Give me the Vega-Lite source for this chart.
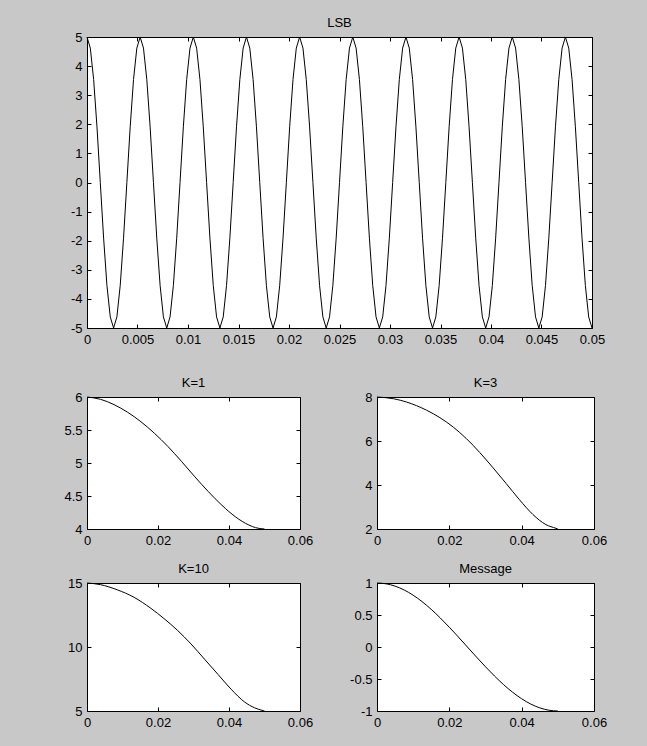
{
"$schema": "https://vega.github.io/schema/vega-lite/v6.json",
"background": "#c8c8c8",
"padding": {"left": 51, "top": 16, "right": 45, "bottom": 20},
"spacing": 29,
"config": {
  "view": {"fill": "white", "stroke": "black", "strokeWidth": 1},
  "axis": {"domain": false, "grid": false, "tickColor": "black", "tickSize": -4, "labelColor": "black", "labelFont": "Liberation Sans", "labelFontSize": 13, "labelPadding": 9, "labelFlush": false, "title": null, "labelExpr": "'' + datum.value"},
  "title": {"font": "Liberation Sans", "fontSize": 13, "fontWeight": "normal", "color": "black", "offset": 1},
  "line": {"color": "black", "strokeWidth": 1}
},
"datasets": {
  "lsb": [
    {"t":0,"v":5},{"t":0.000329,"v":4.619},{"t":0.000658,"v":3.536},{"t":0.000987,"v":1.913},{"t":0.001316,"v":0},{"t":0.001645,"v":-1.913},{"t":0.001974,"v":-3.536},{"t":0.002303,"v":-4.619},{"t":0.002632,"v":-5},{"t":0.002961,"v":-4.619},{"t":0.003289,"v":-3.536},{"t":0.003618,"v":-1.913},{"t":0.003947,"v":0},{"t":0.004276,"v":1.913},{"t":0.004605,"v":3.536},{"t":0.004934,"v":4.619},
    {"t":0.005263,"v":5},{"t":0.005592,"v":4.619},{"t":0.005921,"v":3.536},{"t":0.00625,"v":1.913},{"t":0.006579,"v":0},{"t":0.006908,"v":-1.913},{"t":0.007237,"v":-3.536},{"t":0.007566,"v":-4.619},{"t":0.007895,"v":-5},{"t":0.008224,"v":-4.619},{"t":0.008553,"v":-3.536},{"t":0.008882,"v":-1.913},{"t":0.009211,"v":0},{"t":0.009539,"v":1.913},{"t":0.009868,"v":3.536},{"t":0.010197,"v":4.619},
    {"t":0.010526,"v":5},{"t":0.010855,"v":4.619},{"t":0.011184,"v":3.536},{"t":0.011513,"v":1.913},{"t":0.011842,"v":0},{"t":0.012171,"v":-1.913},{"t":0.0125,"v":-3.536},{"t":0.012829,"v":-4.619},{"t":0.013158,"v":-5},{"t":0.013487,"v":-4.619},{"t":0.013816,"v":-3.536},{"t":0.014145,"v":-1.913},{"t":0.014474,"v":0},{"t":0.014803,"v":1.913},{"t":0.015132,"v":3.536},{"t":0.015461,"v":4.619},
    {"t":0.015789,"v":5},{"t":0.016118,"v":4.619},{"t":0.016447,"v":3.536},{"t":0.016776,"v":1.913},{"t":0.017105,"v":0},{"t":0.017434,"v":-1.913},{"t":0.017763,"v":-3.536},{"t":0.018092,"v":-4.619},{"t":0.018421,"v":-5},{"t":0.01875,"v":-4.619},{"t":0.019079,"v":-3.536},{"t":0.019408,"v":-1.913},{"t":0.019737,"v":0},{"t":0.020066,"v":1.913},{"t":0.020395,"v":3.536},{"t":0.020724,"v":4.619},
    {"t":0.021053,"v":5},{"t":0.021382,"v":4.619},{"t":0.021711,"v":3.536},{"t":0.022039,"v":1.913},{"t":0.022368,"v":0},{"t":0.022697,"v":-1.913},{"t":0.023026,"v":-3.536},{"t":0.023355,"v":-4.619},{"t":0.023684,"v":-5},{"t":0.024013,"v":-4.619},{"t":0.024342,"v":-3.536},{"t":0.024671,"v":-1.913},{"t":0.025,"v":0},{"t":0.025329,"v":1.913},{"t":0.025658,"v":3.536},{"t":0.025987,"v":4.619},
    {"t":0.026316,"v":5},{"t":0.026645,"v":4.619},{"t":0.026974,"v":3.536},{"t":0.027303,"v":1.913},{"t":0.027632,"v":0},{"t":0.027961,"v":-1.913},{"t":0.028289,"v":-3.536},{"t":0.028618,"v":-4.619},{"t":0.028947,"v":-5},{"t":0.029276,"v":-4.619},{"t":0.029605,"v":-3.536},{"t":0.029934,"v":-1.913},{"t":0.030263,"v":0},{"t":0.030592,"v":1.913},{"t":0.030921,"v":3.536},{"t":0.03125,"v":4.619},
    {"t":0.031579,"v":5},{"t":0.031908,"v":4.619},{"t":0.032237,"v":3.536},{"t":0.032566,"v":1.913},{"t":0.032895,"v":0},{"t":0.033224,"v":-1.913},{"t":0.033553,"v":-3.536},{"t":0.033882,"v":-4.619},{"t":0.034211,"v":-5},{"t":0.034539,"v":-4.619},{"t":0.034868,"v":-3.536},{"t":0.035197,"v":-1.913},{"t":0.035526,"v":0},{"t":0.035855,"v":1.913},{"t":0.036184,"v":3.536},{"t":0.036513,"v":4.619},
    {"t":0.036842,"v":5},{"t":0.037171,"v":4.619},{"t":0.0375,"v":3.536},{"t":0.037829,"v":1.913},{"t":0.038158,"v":0},{"t":0.038487,"v":-1.913},{"t":0.038816,"v":-3.536},{"t":0.039145,"v":-4.619},{"t":0.039474,"v":-5},{"t":0.039803,"v":-4.619},{"t":0.040132,"v":-3.536},{"t":0.040461,"v":-1.913},{"t":0.040789,"v":0},{"t":0.041118,"v":1.913},{"t":0.041447,"v":3.536},{"t":0.041776,"v":4.619},
    {"t":0.042105,"v":5},{"t":0.042434,"v":4.619},{"t":0.042763,"v":3.536},{"t":0.043092,"v":1.913},{"t":0.043421,"v":0},{"t":0.04375,"v":-1.913},{"t":0.044079,"v":-3.536},{"t":0.044408,"v":-4.619},{"t":0.044737,"v":-5},{"t":0.045066,"v":-4.619},{"t":0.045395,"v":-3.536},{"t":0.045724,"v":-1.913},{"t":0.046053,"v":0},{"t":0.046382,"v":1.913},{"t":0.046711,"v":3.536},{"t":0.047039,"v":4.619},
    {"t":0.047368,"v":5},{"t":0.047697,"v":4.619},{"t":0.048026,"v":3.536},{"t":0.048355,"v":1.913},{"t":0.048684,"v":0},{"t":0.049013,"v":-1.913},{"t":0.049342,"v":-3.536},{"t":0.049671,"v":-4.619},{"t":0.05,"v":-5}
  ],
  "k1": [
    {"t":0,"v":6},{"t":0.0038,"v":5.965},{"t":0.0076,"v":5.885},{"t":0.0114,"v":5.77},{"t":0.0152,"v":5.625},{"t":0.019,"v":5.45},{"t":0.0228,"v":5.25},{"t":0.0266,"v":5.025},{"t":0.0304,"v":4.79},{"t":0.0342,"v":4.565},{"t":0.038,"v":4.36},{"t":0.0418,"v":4.185},{"t":0.0456,"v":4.06},{"t":0.0475,"v":4.02},{"t":0.05,"v":4.0}
  ],
  "k3": [
    {"t":0,"v":8},{"t":0.0046,"v":7.92},{"t":0.0082,"v":7.77},{"t":0.0137,"v":7.4},{"t":0.0174,"v":7.06},{"t":0.0211,"v":6.63},{"t":0.0247,"v":6.11},{"t":0.0284,"v":5.48},{"t":0.0321,"v":4.78},{"t":0.0357,"v":4.07},{"t":0.0394,"v":3.33},{"t":0.0431,"v":2.66},{"t":0.0467,"v":2.2},{"t":0.0495,"v":2.03},{"t":0.05,"v":2.0}
  ],
  "k10": [
    {"t":0,"v":15},{"t":0.0038,"v":14.87},{"t":0.0085,"v":14.47},{"t":0.0132,"v":13.89},{"t":0.018,"v":13.02},{"t":0.0217,"v":12.22},{"t":0.0255,"v":11.3},{"t":0.0293,"v":10.24},{"t":0.0331,"v":9.05},{"t":0.0369,"v":7.86},{"t":0.0406,"v":6.7},{"t":0.0444,"v":5.7},{"t":0.0472,"v":5.25},{"t":0.0496,"v":5.03},{"t":0.05,"v":5.0}
  ],
  "msg": [
    {"t":0,"v":1},{"t":0.0025,"v":0.9877},{"t":0.005,"v":0.9511},{"t":0.0075,"v":0.891},{"t":0.01,"v":0.809},{"t":0.0125,"v":0.7071},{"t":0.015,"v":0.5878},{"t":0.0175,"v":0.454},{"t":0.02,"v":0.309},{"t":0.0225,"v":0.1564},{"t":0.025,"v":0},{"t":0.0275,"v":-0.1564},{"t":0.03,"v":-0.309},{"t":0.0325,"v":-0.454},{"t":0.035,"v":-0.5878},{"t":0.0375,"v":-0.7071},{"t":0.04,"v":-0.809},{"t":0.0425,"v":-0.891},{"t":0.045,"v":-0.9511},{"t":0.0475,"v":-0.9877},{"t":0.05,"v":-1}
  ]
},
"vconcat": [
  {
    "title": "LSB",
    "width": 505, "height": 291,
    "data": {"name": "lsb"},
    "layer": [
      {"mark": {"type": "line"},
       "encoding": {
         "x": {"field": "t", "type": "quantitative", "scale": {"domain": [0, 0.05], "nice": false}, "axis": {"values": [0,0.005,0.01,0.015,0.02,0.025,0.03,0.035,0.04,0.045,0.05]}},
         "y": {"field": "v", "type": "quantitative", "scale": {"domain": [-5, 5], "nice": false}, "axis": {"values": [-5,-4,-3,-2,-1,0,1,2,3,4,5], "minExtent": 30, "maxExtent": 30}}
       }},
      {"mark": {"type": "line", "opacity": 0},
       "encoding": {
         "x": {"field": "t", "type": "quantitative", "scale": {"domain": [0, 0.05], "nice": false}, "axis": {"orient": "top", "labels": false, "values": [0,0.005,0.01,0.015,0.02,0.025,0.03,0.035,0.04,0.045,0.05], "minExtent": 0, "maxExtent": 0}},
         "y": {"field": "v", "type": "quantitative", "scale": {"domain": [-5, 5], "nice": false}, "axis": {"orient": "right", "labels": false, "values": [-5,-4,-3,-2,-1,0,1,2,3,4,5], "minExtent": 0, "maxExtent": 0}}
       }}
    ],
    "resolve": {"axis": {"x": "independent", "y": "independent"}}
  },
  {
    "spacing": 14,
    "vconcat": [
      {
        "spacing": 27,
        "hconcat": [
          {
            "title": "K=1", "width": 213, "height": 132, "data": {"name": "k1"},
            "layer": [
              {"mark": {"type": "line", "interpolate": "monotone"},
               "encoding": {
                 "x": {"field": "t", "type": "quantitative", "scale": {"domain": [0, 0.06], "nice": false}, "axis": {"values": [0,0.02,0.04,0.06]}},
                 "y": {"field": "v", "type": "quantitative", "scale": {"domain": [4, 6], "nice": false, "zero": false}, "axis": {"values": [4,4.5,5,5.5,6], "minExtent": 35, "maxExtent": 35}}
               }},
              {"mark": {"type": "line", "opacity": 0},
               "encoding": {
                 "x": {"field": "t", "type": "quantitative", "scale": {"domain": [0, 0.06], "nice": false}, "axis": {"orient": "top", "labels": false, "values": [0,0.02,0.04,0.06], "minExtent": 0, "maxExtent": 0}},
                 "y": {"field": "v", "type": "quantitative", "scale": {"domain": [4, 6], "nice": false, "zero": false}, "axis": {"orient": "right", "labels": false, "values": [4,4.5,5,5.5,6], "minExtent": 0, "maxExtent": 0}}
               }}
            ],
            "resolve": {"axis": {"x": "independent", "y": "independent"}}
          },
          {
            "title": "K=3", "width": 217, "height": 132, "data": {"name": "k3"},
            "layer": [
              {"mark": {"type": "line", "interpolate": "monotone"},
               "encoding": {
                 "x": {"field": "t", "type": "quantitative", "scale": {"domain": [0, 0.06], "nice": false}, "axis": {"values": [0,0.02,0.04,0.06]}},
                 "y": {"field": "v", "type": "quantitative", "scale": {"domain": [2, 8], "nice": false, "zero": false}, "axis": {"values": [2,4,6,8], "minExtent": 35, "maxExtent": 35}}
               }},
              {"mark": {"type": "line", "opacity": 0},
               "encoding": {
                 "x": {"field": "t", "type": "quantitative", "scale": {"domain": [0, 0.06], "nice": false}, "axis": {"orient": "top", "labels": false, "values": [0,0.02,0.04,0.06], "minExtent": 0, "maxExtent": 0}},
                 "y": {"field": "v", "type": "quantitative", "scale": {"domain": [2, 8], "nice": false, "zero": false}, "axis": {"orient": "right", "labels": false, "values": [2,4,6,8], "minExtent": 0, "maxExtent": 0}}
               }}
            ],
            "resolve": {"axis": {"x": "independent", "y": "independent"}}
          }
        ]
      },
      {
        "spacing": 27,
        "hconcat": [
          {
            "title": "K=10", "width": 213, "height": 128, "data": {"name": "k10"},
            "layer": [
              {"mark": {"type": "line", "interpolate": "monotone"},
               "encoding": {
                 "x": {"field": "t", "type": "quantitative", "scale": {"domain": [0, 0.06], "nice": false}, "axis": {"values": [0,0.02,0.04,0.06]}},
                 "y": {"field": "v", "type": "quantitative", "scale": {"domain": [5, 15], "nice": false, "zero": false}, "axis": {"values": [5,10,15], "minExtent": 35, "maxExtent": 35}}
               }},
              {"mark": {"type": "line", "opacity": 0},
               "encoding": {
                 "x": {"field": "t", "type": "quantitative", "scale": {"domain": [0, 0.06], "nice": false}, "axis": {"orient": "top", "labels": false, "values": [0,0.02,0.04,0.06], "minExtent": 0, "maxExtent": 0}},
                 "y": {"field": "v", "type": "quantitative", "scale": {"domain": [5, 15], "nice": false, "zero": false}, "axis": {"orient": "right", "labels": false, "values": [5,10,15], "minExtent": 0, "maxExtent": 0}}
               }}
            ],
            "resolve": {"axis": {"x": "independent", "y": "independent"}}
          },
          {
            "title": "Message", "width": 217, "height": 128, "data": {"name": "msg"},
            "layer": [
              {"mark": {"type": "line", "interpolate": "monotone"},
               "encoding": {
                 "x": {"field": "t", "type": "quantitative", "scale": {"domain": [0, 0.06], "nice": false}, "axis": {"values": [0,0.02,0.04,0.06]}},
                 "y": {"field": "v", "type": "quantitative", "scale": {"domain": [-1, 1], "nice": false}, "axis": {"values": [-1,-0.5,0,0.5,1], "minExtent": 35, "maxExtent": 35}}
               }},
              {"mark": {"type": "line", "opacity": 0},
               "encoding": {
                 "x": {"field": "t", "type": "quantitative", "scale": {"domain": [0, 0.06], "nice": false}, "axis": {"orient": "top", "labels": false, "values": [0,0.02,0.04,0.06], "minExtent": 0, "maxExtent": 0}},
                 "y": {"field": "v", "type": "quantitative", "scale": {"domain": [-1, 1], "nice": false}, "axis": {"orient": "right", "labels": false, "values": [-1,-0.5,0,0.5,1], "minExtent": 0, "maxExtent": 0}}
               }}
            ],
            "resolve": {"axis": {"x": "independent", "y": "independent"}}
          }
        ]
      }
    ]
  }
]
}
